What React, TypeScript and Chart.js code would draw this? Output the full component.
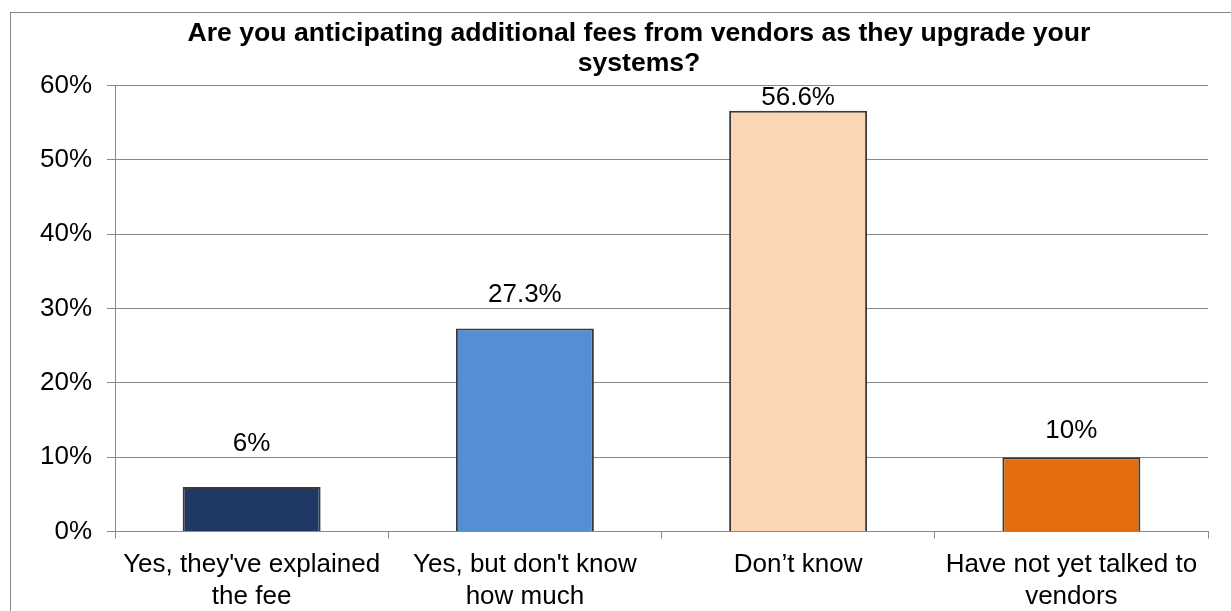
import React, { useEffect, useRef } from 'react';
import { Chart, registerables } from 'chart.js';

Chart.register(...registerables);

const titleLines = [
  'Are you anticipating additional fees from vendors as they upgrade your',
  'systems?',
];
const categories = [
  ["Yes, they've explained", 'the fee'],
  ["Yes, but don't know", 'how much'],
  ['Don’t know'],
  ['Have not yet talked to', 'vendors'],
];
const values = [6, 27.3, 56.6, 10];
const valueLabels = ['6%', '27.3%', '56.6%', '10%'];
const barColors = ['#1F3864', '#558ED5', '#FCD5B5', '#E46C0A'];
const yMin = 0;
const yMax = 60;
const yStep = 10;

const FONT = '"Liberation Sans", Arial, sans-serif';
const GRID = '#898989';

const labelPlugin = {
  id: 'valueLabels',
  afterDatasetsDraw(chart: any, _args: any, opts: any) {
    const ctx = chart.ctx;
    const meta = chart.getDatasetMeta(0);
    ctx.save();
    ctx.font = `26px ${FONT}`;
    ctx.fillStyle = '#000';
    ctx.textAlign = 'center';
    ctx.textBaseline = 'middle';
    meta.data.forEach((bar: any, i: number) => {
      ctx.fillText(valueLabels[i], bar.x, bar.y - (opts.lift?.[i] ?? 20));
    });
    ctx.restore();
  },
};

export default function App() {
  const ref = useRef<HTMLCanvasElement>(null);

  useEffect(() => {
    if (!ref.current) return;
    const chart = new Chart(ref.current, {
      type: 'bar',
      data: {
        labels: categories,
        datasets: [
          {
            data: values,
            backgroundColor: barColors,
            borderColor: '#3A3A3A',
            borderWidth: 2,
            barPercentage: 0.505,
            categoryPercentage: 1,
          },
        ],
      },
      plugins: [labelPlugin],
      options: {
        responsive: false,
        animation: false,
        layout: { padding: 0 },
        plugins: {
          legend: { display: false },
          tooltip: { enabled: false },
          title: {
            display: true,
            text: titleLines,
            color: '#000',
            font: { family: FONT, size: 26.6, weight: 'bold', lineHeight: 1.13 },
            padding: { top: 6, bottom: 6.4 },
          },
          valueLabels: { lift: [43, 34, 12.5, 26] },
        } as any,
        scales: {
          x: {
            grid: {
              display: true,
              drawOnChartArea: false,
              drawTicks: true,
              tickLength: 7,
              color: GRID,
            },
            border: { display: true, color: GRID, width: 1 },
            ticks: {
              color: '#000',
              font: { family: FONT, size: 26, lineHeight: 1.25 },
              padding: 10,
              autoSkip: false,
              maxRotation: 0,
              minRotation: 0,
            },
            afterFit: (s: any) => {
              s.height = 101.5;
            },
          },
          y: {
            min: yMin,
            max: yMax,
            grid: { color: GRID, tickLength: 8, lineWidth: 1 },
            border: { display: true, color: GRID, width: 1 },
            ticks: {
              stepSize: yStep,
              color: '#000',
              font: { family: FONT, size: 26 },
              padding: 15,
              callback: (v: any) => `${v}%`,
            },
            afterFit: (s: any) => {
              s.width = 104;
            },
          },
          yRight: {
            type: 'linear',
            position: 'right',
            display: true,
            grid: { display: false },
            border: { display: false },
            ticks: { display: false },
            afterFit: (s: any) => {
              s.width = 59;
            },
          },
        } as any,
      },
    });
    return () => chart.destroy();
  }, []);

  return (
    <div style={{ position: 'fixed', left: 0, top: 0, right: 0, bottom: 0, overflow: 'hidden', background: '#fff' }}>
      <div
        style={{
          position: 'absolute',
          left: 10,
          top: 12,
          width: 1256,
          height: 620,
          border: '1px solid #868686',
          background: '#fff',
        }}
      >
        <canvas ref={ref} width={1256} height={620} style={{ display: 'block', width: 1256, height: 620 }} />
      </div>
    </div>
  );
}
